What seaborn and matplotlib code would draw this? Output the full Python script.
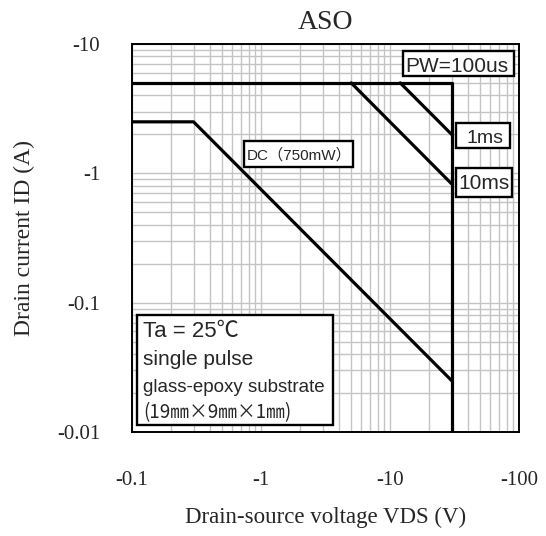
import matplotlib
matplotlib.use("Agg")
import matplotlib.pyplot as plt
import seaborn as sns
import numpy as np
import pandas as pd
from matplotlib.ticker import FixedLocator, FuncFormatter, LogLocator, NullFormatter
from matplotlib.patches import Rectangle

# ---- data ----
boundary_v = [0.1, 30, 30]
boundary_i = [5, 5, 0.01]
dc_v = [0.1, 0.3, 30]
dc_i = [2.5, 2.5, 0.025]
ms10_v = [5, 30]
ms10_i = [5, 0.83]
ms1_v = [12, 30]
ms1_i = [5, 2.0]
x_ticks = [0.1, 1, 10, 100]
y_ticks = [0.01, 0.1, 1, 10]
x_tick_labels = ["-0.1", "-1", "-10", "-100"]
y_tick_labels = ["-0.01", "-0.1", "-1", "-10"]

sns.set_theme(style="white")
plt.rcParams['font.family'] = ['Liberation Serif', 'DejaVu Serif']

fig = plt.figure(figsize=(5.46, 5.36), dpi=100)
ax = fig.add_axes([0.2418, 0.194, 0.7088, 0.724])
ax.set_xscale("log")
ax.set_yscale("log")

for vx, iy in [(boundary_v, boundary_i), (dc_v, dc_i), (ms10_v, ms10_i), (ms1_v, ms1_i)]:
    df = pd.DataFrame({"V": vx, "I": iy})
    sns.lineplot(data=df, x="V", y="I", sort=False, estimator=None,
                 color="black", linewidth=2.3, ax=ax, zorder=5)

ax.set_xlim(0.1, 100)
ax.set_ylim(0.01, 10)

ax.xaxis.set_major_locator(FixedLocator(x_ticks))
ax.yaxis.set_major_locator(FixedLocator(y_ticks))
ax.xaxis.set_major_formatter(FuncFormatter(lambda v, p: x_tick_labels[x_ticks.index(v)] if v in x_ticks else ""))
ax.yaxis.set_major_formatter(FuncFormatter(lambda v, p: y_tick_labels[y_ticks.index(v)] if v in y_ticks else ""))
ax.xaxis.set_minor_locator(LogLocator(base=10, subs=np.arange(2, 10)))
ax.yaxis.set_minor_locator(LogLocator(base=10, subs=np.arange(2, 10)))
ax.xaxis.set_minor_formatter(NullFormatter())
ax.yaxis.set_minor_formatter(NullFormatter())
ax.tick_params(axis="both", which="both", length=0)
ax.tick_params(axis="x", which="major", pad=28, labelsize=15)
ax.tick_params(axis="y", which="major", pad=23, labelsize=15)

ax.grid(True, which="both", color="#c4c4c4", linewidth=1.0)
ax.set_axisbelow(True)
for s in ax.spines.values():
    s.set_color("black")
    s.set_linewidth(1.4)

ax.set_xlabel("Drain-source voltage VDS (V)", fontsize=16.5)
ax.set_ylabel("Drain current ID (A)", fontsize=17)
ax.xaxis.set_label_coords(0.5, -0.193)
ax.yaxis.set_label_coords(-0.25, 0.5)
ax.set_title("ASO", fontsize=20, pad=11)

sans = ['Liberation Sans', 'Noto Sans CJK JP', 'DejaVu Sans']
cjk = ['Noto Sans CJK JP', 'DejaVu Sans']

def box(x0, y0, w, h):
    ax.add_patch(Rectangle((x0, y0), w, h, transform=ax.transAxes,
                           facecolor="white", edgecolor="black", linewidth=1.7, zorder=10))

def label(x, y, s, size, ha="center", fam=sans):
    ax.text(x, y, s, transform=ax.transAxes, ha=ha, va="baseline",
            fontsize=size, family=fam, zorder=11)

box(0.6995, 0.9183, 0.2876, 0.0644)
label(0.840, 0.9286, "PW=100us", 15)
box(0.8372, 0.7320, 0.1395, 0.0652)
label(0.912, 0.744, "1ms", 14)
box(0.8372, 0.6064, 0.1439, 0.0740)
label(0.910, 0.6255, "10ms", 15)
box(0.2894, 0.683, 0.2817, 0.067)
label(0.431, 0.702, "DC（750mW）", 11)

box(0.013, 0.018, 0.506, 0.2835)
label(0.029, 0.2457, "Ta = 25℃", 16, ha="left")
label(0.029, 0.1727, "single pulse", 15, ha="left")
label(0.029, 0.102, "glass-epoxy substrate", 13.5, ha="left")
label(0.029, 0.036, "(19㎜×9㎜×1㎜)", 13.5, ha="left", fam=cjk)

fig.savefig("out.png", dpi=100)
